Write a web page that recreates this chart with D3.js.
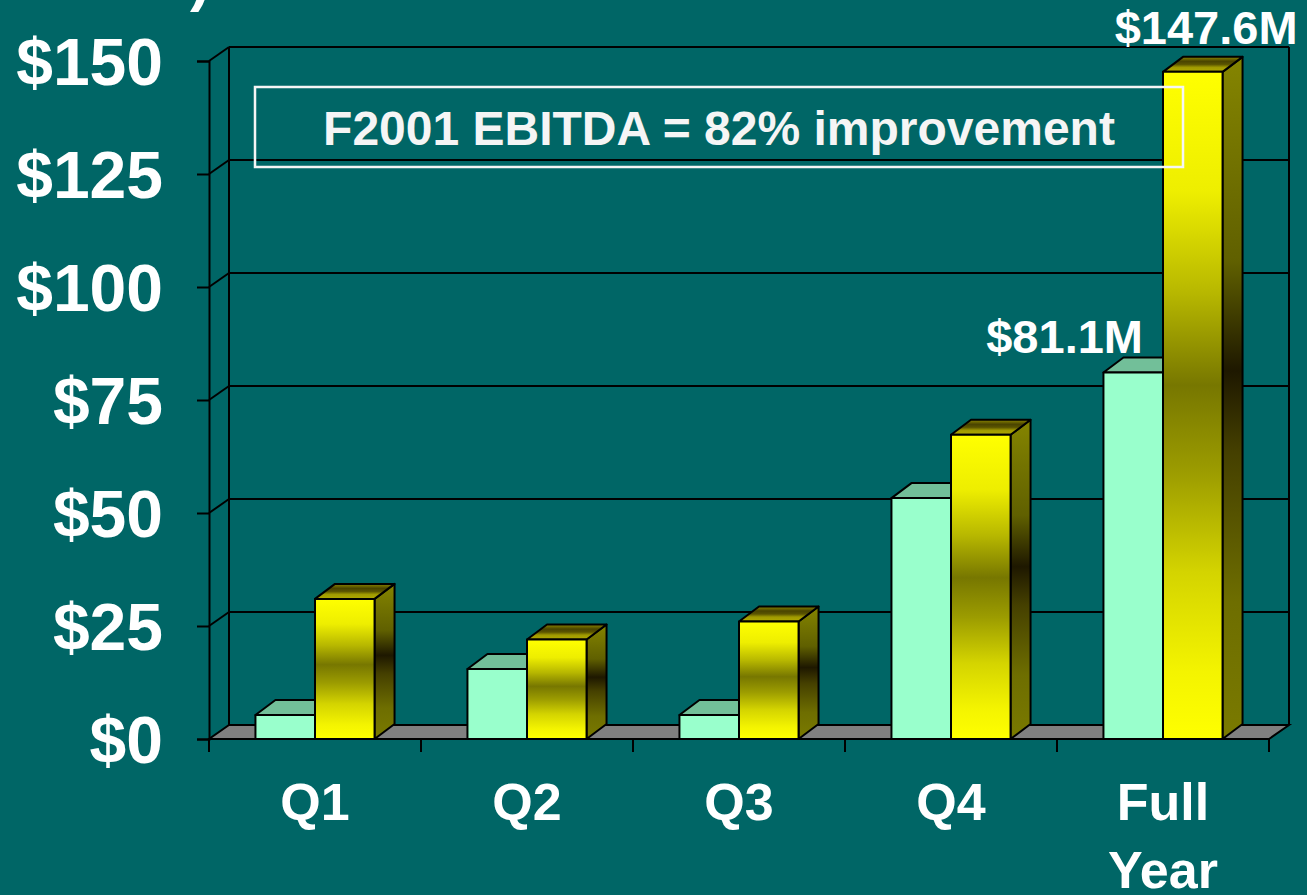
<!DOCTYPE html>
<html>
<head>
<meta charset="utf-8">
<script src="https://cdn.jsdelivr.net/npm/d3@7"></script>
<style>
  html, body { margin: 0; padding: 0; background: #006666; }
  svg { display: block; font-family: "Liberation Sans", Arial, sans-serif; font-weight: bold; }
</style>
</head>
<body>
<svg width="1307" height="895"></svg>
<script>
// data ($ millions)
const categories = ["Q1", "Q2", "Q3", "Q4", "Full Year"];
const series = ["F2000", "F2001"];
const valuesF2000 = [5.3, 15.5, 5.3, 53.3, 81.1];
const valuesF2001 = [31, 22, 26, 67.3, 147.6];
const yTicks = [0, 25, 50, 75, 100, 125, 150];
const valueLabels = [
  { cat: "Full Year", series: "F2000", text: "$81.1M" },
  { cat: "Full Year", series: "F2001", text: "$147.6M" }
];
const noteText = "F2001 EBITDA = 82% improvement";

const svg = d3.select("svg");

// depth offsets for the fake 3d look
const dx = 20, dyWall = 14, dyBar = 15;

const x0 = d3.scaleBand().domain(categories).range([209, 1269]).paddingInner(0).paddingOuter(0);
const x1 = d3.scaleBand().domain(series).range([0, x0.bandwidth()]).paddingInner(0).paddingOuter(0.78);
const y = d3.scaleLinear().domain([0, 150]).range([739, 61]);

const rows = [];
categories.forEach((c, i) => {
  rows.push({ cat: c, series: "F2000", value: valuesF2000[i] });
  rows.push({ cat: c, series: "F2001", value: valuesF2001[i] });
});
const lookup = (cat, s) => rows.find((r) => r.cat === cat && r.series === s).value;

const defs = svg.append("defs");
const addGrad = (id, stops) => {
  const g = defs.append("linearGradient").attr("id", id)
    .attr("x1", 0).attr("y1", 0).attr("x2", 0).attr("y2", 1);
  stops.forEach(([o, c]) => g.append("stop").attr("offset", o).attr("stop-color", c));
};
addGrad("goldFront", [[0, "#ffff00"], [0.18, "#eeee00"], [0.33, "#b8b800"], [0.47, "#777700"],
  [0.6, "#9c9c00"], [0.75, "#d4d400"], [0.9, "#f4f400"], [1, "#ffff00"]]);
addGrad("goldSide", [[0, "#858500"], [0.3, "#606000"], [0.46, "#1e1800"], [0.58, "#454000"],
  [0.8, "#6e6e00"], [1, "#7a7a00"]]);
addGrad("goldTop", [[0, "#8c8600"], [0.3, "#4a4400"], [0.5, "#5a5400"], [0.7, "#a09a00"], [1, "#b0aa00"]]);

// title sits above the slide area, only the tail of its last bracket shows
defs.append("clipPath").attr("id", "titleClip")
  .append("rect").attr("x", 186).attr("y", 0).attr("width", 40).attr("height", 30);
svg.append("text")
  .attr("clip-path", "url(#titleClip)")
  .attr("x", 210).attr("y", 0)
  .attr("text-anchor", "end")
  .attr("font-size", 60)
  .attr("fill", "#ffffff")
  .text("EBITDA ($ Millions)");

const wall = svg.append("g").attr("stroke", "#000").attr("stroke-width", 2).attr("fill", "none");
const [xl, xr] = x0.range();

// back wall gridlines
wall.selectAll(".grid").data(yTicks.slice(1)).enter().append("line")
  .attr("x1", xl + dx).attr("x2", xr + dx)
  .attr("y1", (d) => y(d) - dyWall).attr("y2", (d) => y(d) - dyWall);
// side wall diagonals
wall.selectAll(".diag").data(yTicks.slice(1)).enter().append("line")
  .attr("x1", xl).attr("x2", xl + dx)
  .attr("y1", (d) => y(d)).attr("y2", (d) => y(d) - dyWall);
// wall edges
wall.append("line").attr("x1", xl + dx).attr("x2", xl + dx).attr("y1", y(0) - dyWall).attr("y2", y(150) - dyWall);
wall.append("line").attr("x1", xr + dx).attr("x2", xr + dx).attr("y1", y(0) - dyWall).attr("y2", y(150) - dyWall);

// floor
svg.append("polygon")
  .attr("points", [[xl, y(0)], [xr, y(0)], [xr + dx, y(0) - dyWall], [xl + dx, y(0) - dyWall]].join(" "))
  .attr("fill", "#808080").attr("stroke", "#000").attr("stroke-width", 2);

// y axis
const yAxis = svg.append("g").attr("transform", `translate(${xl},0)`)
  .call(d3.axisLeft(y).tickValues(yTicks).tickSize(12).tickPadding(34).tickFormat((d) => "$" + d));
yAxis.select(".domain").attr("stroke", "#000").attr("stroke-width", 2);
yAxis.selectAll(".tick line").attr("stroke", "#000").attr("stroke-width", 2);
yAxis.selectAll(".tick text").attr("fill", "#fff").attr("font-size", 66).attr("font-family", null)
  .attr("dy", "0.36em");

// x axis: boundaries ticks, labels at band centres
const xAxis = svg.append("g");
xAxis.append("line").attr("x1", xl).attr("x2", xr).attr("y1", y(0)).attr("y2", y(0))
  .attr("stroke", "#000").attr("stroke-width", 2);
xAxis.selectAll(".bt").data(categories.map((c) => x0(c)).concat([xr])).enter().append("line")
  .attr("x1", (d) => d).attr("x2", (d) => d).attr("y1", y(0)).attr("y2", y(0) + 13)
  .attr("stroke", "#000").attr("stroke-width", 2);
xAxis.selectAll(".lbl").data(categories).enter().append("text")
  .attr("x", (d) => x0(d) + x0.bandwidth() / 2)
  .attr("y", 820)
  .attr("text-anchor", "middle")
  .attr("font-size", 52)
  .attr("fill", "#fff")
  .each(function (d) {
    const words = d.split(" ");
    d3.select(this).selectAll("tspan").data(words).enter().append("tspan")
      .attr("x", x0(d) + x0.bandwidth() / 2)
      .attr("dy", (w, i) => (i === 0 ? 0 : 68))
      .text((w) => w);
  });

// bars
const style = {
  F2000: { front: "#99ffcc", top: "#72bf99", side: "#66b38c" },
  F2001: { front: "url(#goldFront)", top: "url(#goldTop)", side: "url(#goldSide)" }
};
const bars = svg.append("g").selectAll("g").data(rows).enter().append("g")
  .attr("stroke", "#000").attr("stroke-width", 2).attr("stroke-linejoin", "round");
bars.append("polygon") // side
  .attr("points", (d) => {
    const r = x0(d.cat) + x1(d.series) + x1.bandwidth();
    return [[r, y(d.value)], [r + dx, y(d.value) - dyBar], [r + dx, y(0) - dyBar], [r, y(0)]].join(" ");
  })
  .attr("fill", (d) => style[d.series].side);
bars.append("polygon") // top
  .attr("points", (d) => {
    const l = x0(d.cat) + x1(d.series), r = l + x1.bandwidth(), t = y(d.value);
    return [[l, t], [l + dx, t - dyBar], [r + dx, t - dyBar], [r, t]].join(" ");
  })
  .attr("fill", (d) => style[d.series].top);
bars.append("rect") // front
  .attr("x", (d) => x0(d.cat) + x1(d.series))
  .attr("y", (d) => y(d.value))
  .attr("width", x1.bandwidth())
  .attr("height", (d) => y(0) - y(d.value))
  .attr("fill", (d) => style[d.series].front);

// value labels on the full year bars
const labelOffset = { F2000: [-20, -19], F2001: [75, -28] };
svg.selectAll(".vl").data(valueLabels).enter().append("text")
  .attr("x", (d) => x0(d.cat) + x1(d.series) + x1.bandwidth() + labelOffset[d.series][0])
  .attr("y", (d) => y(lookup(d.cat, d.series)) + labelOffset[d.series][1])
  .attr("text-anchor", "end")
  .attr("font-size", 47)
  .attr("fill", "#fff")
  .text((d) => d.text);

// note box
svg.append("rect")
  .attr("x", 255).attr("y", 87).attr("width", 928).attr("height", 80)
  .attr("fill", "none").attr("stroke", "#f5f5f5").attr("stroke-width", 2.5);
svg.append("text")
  .attr("x", 719).attr("y", 145)
  .attr("text-anchor", "middle")
  .attr("font-size", 48)
  .attr("fill", "#f5f5f5")
  .text(noteText);
</script>
</body>
</html>
